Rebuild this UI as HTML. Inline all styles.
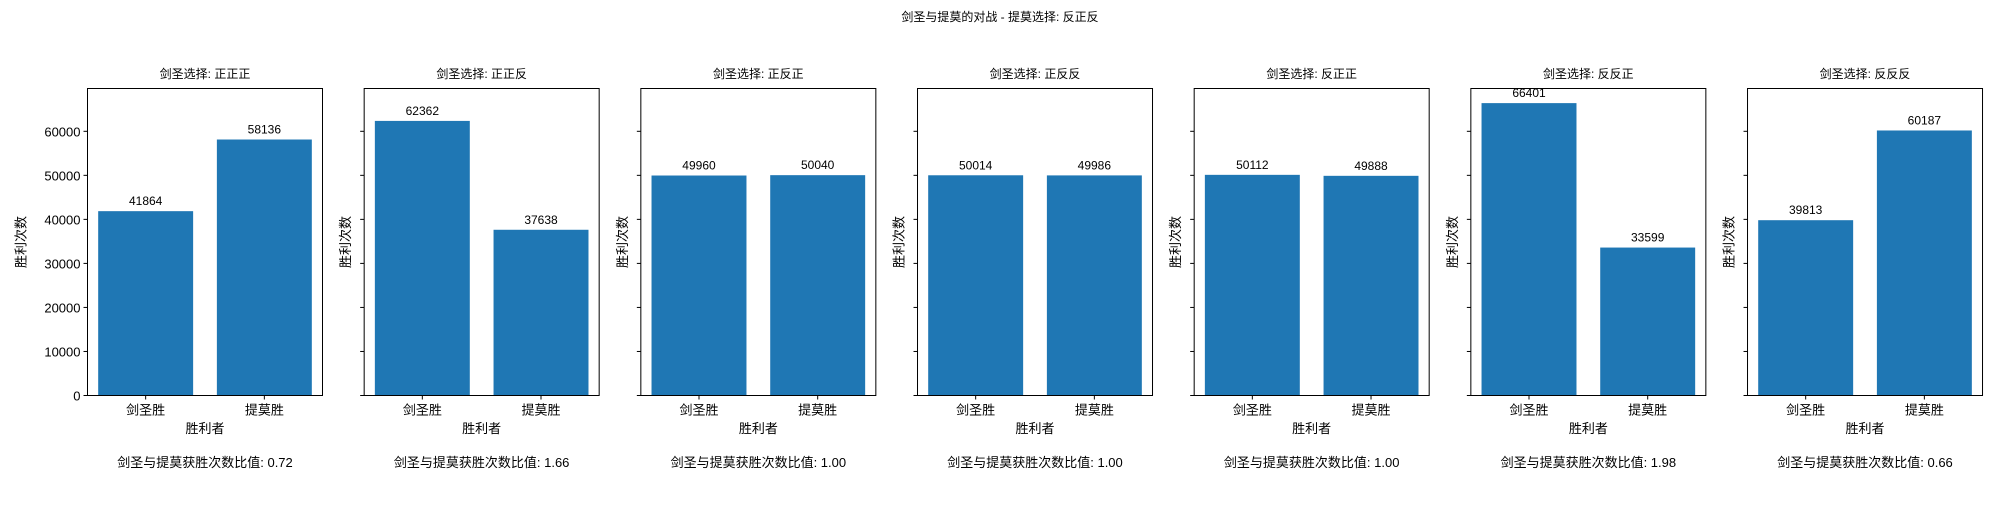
<!DOCTYPE html>
<html><head><meta charset="utf-8"><style>
body{margin:0;background:#fff;width:2000px;height:500px;overflow:hidden}
svg text{font-family:"Liberation Sans","Noto Sans CJK SC","WenQuanYi Zen Hei",sans-serif;fill:#000}
</style></head><body>
<svg id="c" width="2000" height="500" xmlns="http://www.w3.org/2000/svg">
<text x="1000" y="21" font-size="12" text-anchor="middle">剑圣与提莫的对战 - 提莫选择: 反正反</text>
</svg>
<script>
const panelTitles=["正正正","正正反","正反正","正反反","反正正","反反正","反反反"];
const categories=["剑圣胜","提莫胜"];
const swordWins=[41864,62362,49960,50014,50112,66401,39813];
const teemoWins=[58136,37638,50040,49986,49888,33599,60187];
const ratioLabels=["0.72","1.66","1.00","1.00","1.00","1.98","0.66"];
const yTicks=[0,10000,20000,30000,40000,50000,60000];
const NS="http://www.w3.org/2000/svg";
const svgEl=document.getElementById('c');
function mk(t,a,p){const e=document.createElementNS(NS,t);for(const k in a)e.setAttribute(k,a[k]);(p||svgEl).appendChild(e);return e;}
const axTop=88.5,axBot=395.5,pw=235,step=276.67,x0=87.5;
const ymax=Math.max(...swordWins,...teemoWins)*1.05;
for(let i=0;i<panelTitles.length;i++){
  const L=x0+i*step;
  const g=mk('g',{});
  
  
  const ys=v=>axBot-(v/ymax)*(axBot-axTop);
  const xs=v=>L+(v+0.49)/1.98*pw;
  const vals=[swordWins[i],teemoWins[i]];
  vals.forEach((v,j)=>{
    const r=mk('rect',{x:xs(j-0.4),y:ys(v),width:xs(j+0.4)-xs(j-0.4),height:axBot-ys(v),fill:'#1f77b4'},g);
    
    
    const t=mk('text',{x:xs(j),y:ys(v)-6,'font-size':'12','text-anchor':'middle'},g);t.textContent=v;
    
    
    mk('line',{x1:xs(j),x2:xs(j),y1:axBot,y2:axBot+4,stroke:'#000'},g);
    const tl=mk('text',{x:xs(j),y:axBot+19,'font-size':'13','text-anchor':'middle'},g);tl.textContent=categories[j];
    
    
  });
  yTicks.forEach(v=>{
    mk('line',{x1:L-4,x2:L,y1:ys(v),y2:ys(v),stroke:'#000'},g);
    if(i===0){const t=mk('text',{x:L-7,y:ys(v)+5,'font-size':'13','text-anchor':'end'},g);t.textContent=v;
      
      }
  });
  const fr=mk('rect',{x:L,y:axTop,width:pw,height:axBot-axTop,fill:'none',stroke:'#000'},g);
  
  
  const tt=mk('text',{x:L+pw/2,y:78,'font-size':'12','text-anchor':'middle'},g);tt.textContent='剑圣选择: '+panelTitles[i];
  
  
  const xl=mk('text',{x:L+pw/2,y:433,'font-size':'13','text-anchor':'middle'},g);xl.textContent='胜利者';
  
  
  const yx=(i===0?L-66:L-18);
  const yl=mk('text',{x:yx,y:242,'font-size':'13','text-anchor':'middle',transform:`rotate(-90 ${yx} 242)`,dy:'4'},g);yl.textContent='胜利次数';
  
  
  const rt=mk('text',{x:L+pw/2,y:467,'font-size':'13','text-anchor':'middle'},g);rt.textContent='剑圣与提莫获胜次数比值: '+ratioLabels[i];
  
  
}
</script>
</body></html>
